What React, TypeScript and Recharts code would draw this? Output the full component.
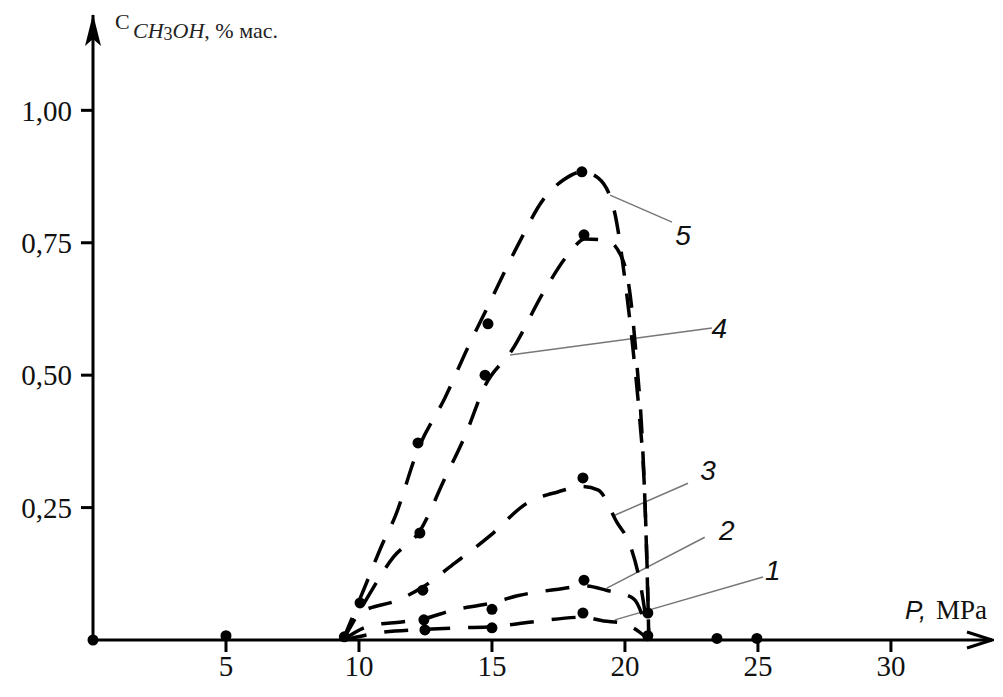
import React from 'react';
import { ComposedChart, Line, Scatter, XAxis, YAxis, ReferenceLine } from 'recharts';

const xTicks = [5, 10, 15, 20, 25, 30];
const yTicks = [0.25, 0.5, 0.75, 1.0];

// dashed curves, read along the dashes (P in MPa, C in % mass)
const curve1P = [9.4, 10.8, 12.48, 13.8, 15.0, 16.5, 18.4, 19.2, 19.9, 20.55, 20.9];
const curve1C = [0, 0.014, 0.02, 0.023, 0.025, 0.034, 0.043, 0.036, 0.032, 0.015, 0];

const curve2P = [9.4, 10.5, 11.6, 12.44, 13.5, 15.0, 16.0, 17.5, 18.5, 19.3, 20.3, 20.75, 20.9];
const curve2C = [0, 0.028, 0.034, 0.04, 0.056, 0.07, 0.084, 0.096, 0.102, 0.094, 0.079, 0.03, 0];

const curve3P = [9.4, 10.0, 11.5, 12.4, 13.6, 15.0, 16.3, 17.5, 18.4, 19.0, 19.7, 20.2, 20.6, 20.9];
const curve3C = [0, 0.05, 0.076, 0.1, 0.145, 0.2, 0.258, 0.28, 0.29, 0.283, 0.222, 0.178, 0.1, 0];

const curve4P = [9.4, 10.2, 11.3, 12.29, 13.2, 14.0, 14.74, 15.75, 17.0, 17.9, 18.5, 19.3, 19.9, 20.2, 20.45, 20.65, 20.78, 20.9];
const curve4C = [0, 0.07, 0.157, 0.206, 0.302, 0.387, 0.48, 0.547, 0.662, 0.73, 0.757, 0.755, 0.72, 0.65, 0.52, 0.38, 0.22, 0];

const curve5P = [9.4, 10.3, 10.86, 11.35, 12.22, 13.23, 14.1, 14.85, 15.98, 16.92, 17.67, 18.4, 19.0, 19.6, 20.0, 20.3, 20.55, 20.72, 20.82, 20.9];
const curve5C = [0, 0.11, 0.179, 0.232, 0.36, 0.457, 0.553, 0.63, 0.746, 0.831, 0.868, 0.884, 0.872, 0.81, 0.68, 0.55, 0.42, 0.3, 0.16, 0];

// measured points
const dotsP = [0, 5, 9.45, 10.04, 12.48, 15.0, 18.42, 12.44, 15.0, 18.46, 12.4, 18.42, 12.29, 14.74, 18.46, 12.22, 14.85, 18.38, 20.86, 20.86, 23.46, 24.96];
const dotsC = [0, 0.008, 0.006, 0.07, 0.019, 0.023, 0.051, 0.038, 0.058, 0.113, 0.094, 0.306, 0.202, 0.5, 0.765, 0.372, 0.597, 0.884, 0.051, 0.008, 0.003, 0.003];

// curve numbers and their leader lines
const curveNames = ['1', '2', '3', '4', '5'];
const nameP = [25.56, 23.83, 23.12, 23.55, 22.18];
const nameC = [0.132, 0.208, 0.321, 0.589, 0.765];
const leaderFrom = [[19.62, 0.038], [19.32, 0.098], [19.55, 0.234], [15.68, 0.538], [19.44, 0.84]];
const leaderTo = [[25.19, 0.119], [23.0, 0.194], [22.37, 0.296], [23.27, 0.589], [21.77, 0.789]];

const toPoints = (xs: number[], ys: number[]) => xs.map((x, i) => ({ x, y: ys[i] }));

const curves = [
  toPoints(curve1P, curve1C),
  toPoints(curve2P, curve2C),
  toPoints(curve3P, curve3C),
  toPoints(curve4P, curve4C),
  toPoints(curve5P, curve5C),
];
const dots = toPoints(dotsP, dotsC);
const names = curveNames.map((name, i) => ({ x: nameP[i], y: nameC[i], name }));

const serif = '"Liberation Serif", "Times New Roman", serif';
const sans = '"Liberation Sans", Arial, sans-serif';

const XTick = ({ x, y, payload }: any) => (
  <text x={x} y={y} dy="0.71em" textAnchor="middle" fontFamily={serif} fontSize={29} fill="#111">
    {payload.value}
  </text>
);

const YTick = ({ x, y, payload }: any) => (
  <text x={x} y={y} dy="0.355em" textAnchor="end" fontFamily={serif} fontSize={29} fill="#111">
    {payload.value.toFixed(2).replace('.', ',')}
  </text>
);

const renderTitle = () => (
  <text fontFamily={serif} fontSize={22} fill="#222">
    <tspan x={115} y={29}>C</tspan>
    <tspan x={133} y={38} fontStyle="italic">CH</tspan>
    <tspan fontSize={18} dy={2}>3</tspan>
    <tspan fontStyle="italic" dy={-2}>OH</tspan>
    <tspan>, % мас.</tspan>
  </text>
);

const renderXTitle = () => (
  <text y={619} fill="#111">
    <tspan x={905} fontFamily={sans} fontStyle="italic" fontSize={26}>P,</tspan>
    <tspan x={936} fontFamily={serif} fontSize={27}>MPa</tspan>
  </text>
);

export default function App() {
  return (
    <div style={{ position: 'absolute', left: 0, top: 0, background: '#fff' }}>
      <svg width={0} height={0} style={{ position: 'absolute' }}>
        <defs>
          <marker id="arrX" markerUnits="userSpaceOnUse" markerWidth={28} markerHeight={20}
            viewBox="0 0 28 20" refX={26} refY={10} orient="auto">
            <path d="M1,2 L26,10 L1,18" fill="none" stroke="#000" strokeWidth={3} />
          </marker>
          <marker id="arrY" markerUnits="userSpaceOnUse" markerWidth={32} markerHeight={18}
            viewBox="0 0 32 18" refX={31} refY={9} orient="auto-start-reverse">
            <path d="M0,1 L32,9 L0,17 L7,9 Z" fill="#000" />
          </marker>
        </defs>
      </svg>
      <ComposedChart width={1003} height={697} margin={{ top: 15, right: 11, bottom: 0, left: 0 }}>
        <XAxis
          type="number"
          dataKey="x"
          domain={[0, 33.8]}
          ticks={xTicks}
          height={57}
          tickSize={12}
          tickMargin={3}
          axisLine={{ stroke: '#000', strokeWidth: 3, markerEnd: 'url(#arrX)' }}
          tickLine={{ stroke: '#000', strokeWidth: 3 }}
          tick={<XTick />}
          label={renderXTitle}
        />
        <YAxis
          type="number"
          dataKey="y"
          domain={[0, 1.18]}
          ticks={yTicks}
          width={93}
          tickSize={12}
          tickMargin={9}
          axisLine={{ stroke: '#000', strokeWidth: 3, markerStart: 'url(#arrY)' }}
          tickLine={{ stroke: '#000', strokeWidth: 3 }}
          tick={<YTick />}
          label={renderTitle}
        />
        {leaderFrom.map((from, i) => (
          <ReferenceLine
            key={'leader' + i}
            segment={[{ x: from[0], y: from[1] }, { x: leaderTo[i][0], y: leaderTo[i][1] }]}
            stroke="#777"
            strokeWidth={1.5}
          />
        ))}
        {curves.map((data, i) => (
          <Line
            key={'curve' + i}
            data={data}
            dataKey="y"
            type="monotone"
            stroke="#000"
            strokeWidth={3.5}
            strokeDasharray="24 18"
            dot={false}
            activeDot={false}
            isAnimationActive={false}
          />
        ))}
        <Scatter
          data={dots}
          dataKey="y"
          isAnimationActive={false}
          shape={(p: any) => <circle cx={p.cx} cy={p.cy} r={5.5} fill="#000" />}
        />
        <Scatter
          data={names}
          dataKey="y"
          isAnimationActive={false}
          shape={(p: any) => (
            <text x={p.cx} y={p.cy} dy="0.36em" textAnchor="middle" fontFamily={sans}
              fontStyle="italic" fontSize={28} fill="#111">
              {p.payload.name}
            </text>
          )}
        />
      </ComposedChart>
    </div>
  );
}
